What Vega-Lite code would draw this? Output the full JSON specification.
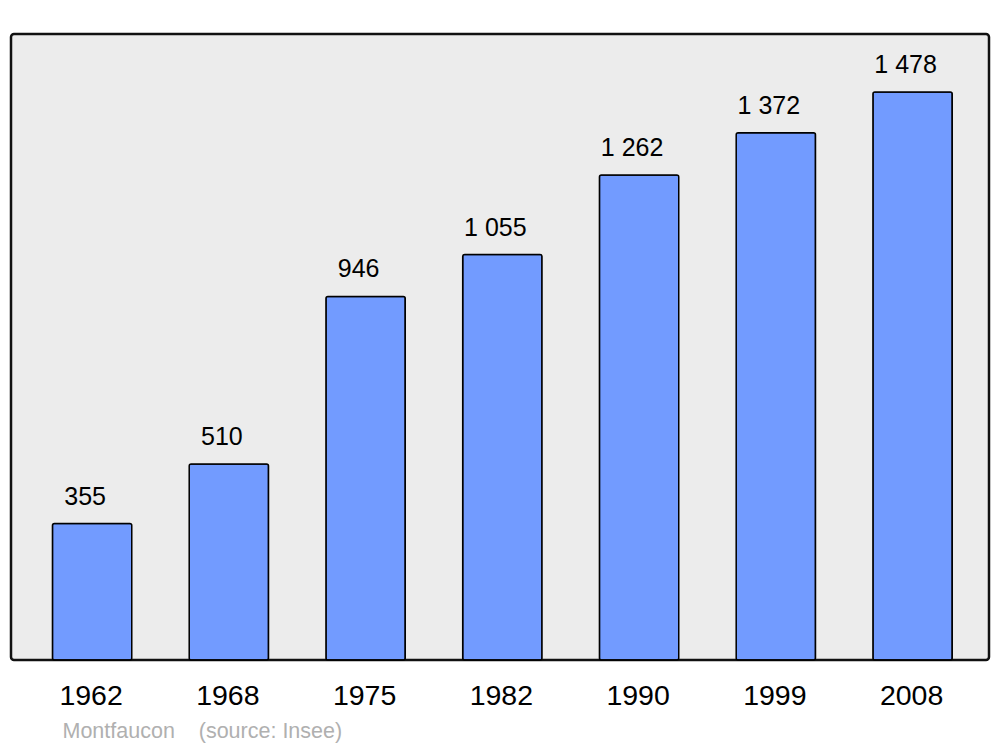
{
  "$schema": "https://vega.github.io/schema/vega-lite/v6.json",
  "width": 978,
  "height": 626,
  "autosize": {"type": "none"},
  "padding": {"left": 11, "top": 34, "right": 11, "bottom": 87},
  "background": "#ffffff",
  "config": {
    "view": {"fill": "#ececec", "stroke": "#111111", "strokeWidth": 2.5, "cornerRadius": 3},
    "font": "Liberation Sans"
  },
  "data": {
    "values": [
      {"year": "1962", "population": 355, "label": "355"},
      {"year": "1968", "population": 510, "label": "510"},
      {"year": "1975", "population": 946, "label": "946"},
      {"year": "1982", "population": 1055, "label": "1 055"},
      {"year": "1990", "population": 1262, "label": "1 262"},
      {"year": "1999", "population": 1372, "label": "1 372"},
      {"year": "2008", "population": 1478, "label": "1 478"}
    ]
  },
  "encoding": {
    "x": {
      "field": "year",
      "type": "ordinal",
      "sort": null,
      "scale": {"paddingInner": 0.42, "paddingOuter": 0.286, "align": 0.53},
      "axis": {
        "title": "Montfaucon\u00a0\u00a0\u00a0\u00a0(source: Insee)",
        "titleFont": "Liberation Sans",
        "titleFontSize": 21.5,
        "titleFontWeight": "normal",
        "titleColor": "#b0b0b0",
        "titleAnchor": "start",
        "titleAlign": "left",
        "titleBaseline": "alphabetic",
        "titleX": 51,
        "titleY": 77,
        "labelAngle": 0,
        "labelFont": "Liberation Sans",
        "labelFontSize": 28.5,
        "labelColor": "#000000",
        "labelBaseline": "alphabetic",
        "labelPadding": 44,
        "labelOffset": -1,
        "ticks": false,
        "domain": false,
        "grid": false
      }
    },
    "y": {
      "field": "population",
      "type": "quantitative",
      "scale": {"domain": [0, 1629], "nice": false, "zero": true},
      "axis": null
    }
  },
  "layer": [
    {
      "mark": {"type": "bar", "color": "#729bff", "stroke": "#000000", "strokeWidth": 1.5, "cornerRadius": 2}
    },
    {
      "mark": {"type": "text", "font": "Liberation Sans", "fontSize": 25, "color": "#000000", "baseline": "alphabetic", "align": "center", "dy": -19, "dx": -7},
      "encoding": {"text": {"field": "label"}}
    }
  ]
}
